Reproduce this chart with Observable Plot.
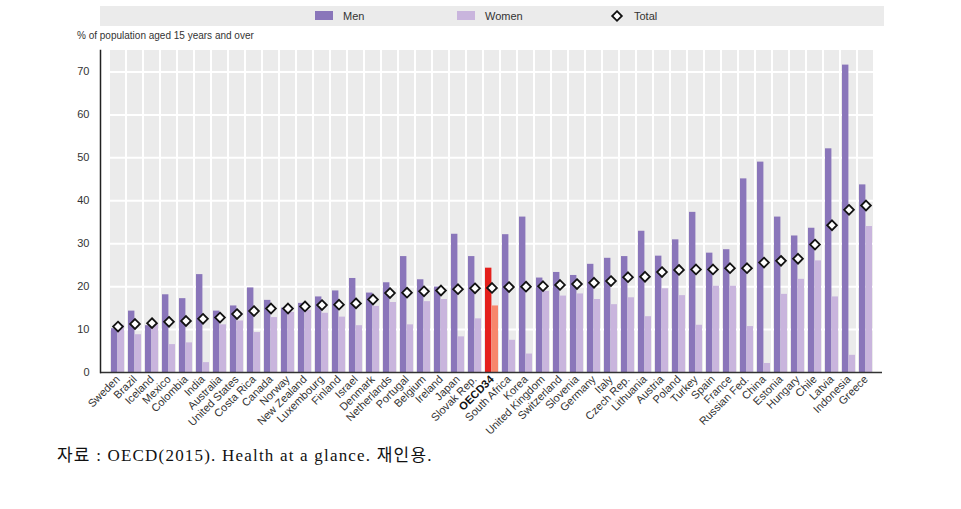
<!DOCTYPE html>
<html>
<head>
<meta charset="utf-8">
<script src="https://cdn.jsdelivr.net/npm/d3@7"></script>
<script src="https://cdn.jsdelivr.net/npm/@observablehq/plot@0.6"></script>
<style>
  body { margin: 0; background: #fff; }
  #wrap { position: relative; width: 961px; height: 509px; font-family: "Liberation Sans Narrow", "Arial Narrow", "Liberation Sans", Arial, sans-serif; color: #333; }
  #legend { position: absolute; left: 100px; top: 6px; width: 784px; height: 20px; background: #ebebeb; }
  .item { position: absolute; top: 0; height: 20px; line-height: 20px; font-size: 11px; color: #333; }
  .sw { position: absolute; top: 5px; width: 18px; height: 9px; }
  #ylabel { position: absolute; left: 77px; top: 30px; font-size: 10px; color: #333; }
  #chart { position: absolute; left: 0; top: 30px; }
  #caption { position: absolute; left: 57px; top: 441px; font-size: 17px; letter-spacing: 1.2px; color: #111; font-family: "Liberation Serif", "Noto Sans CJK KR", serif; white-space: nowrap; }
</style>
</head>
<body>
<div id="wrap">
  <div id="legend"></div>
  <div id="ylabel"></div>
  <div id="chart"></div>
  <div id="caption"></div>
</div>
<script>
const countries = ["Sweden","Brazil","Iceland","Mexico","Colombia","India","Australia","United States","Costa Rica","Canada","Norway","New Zealand","Luxembourg","Finland","Israel","Denmark","Netherlands","Portugal","Belgium","Ireland","Japan","Slovak Rep.","OECD34","South Africa","Korea","United Kingdom","Switzerland","Slovenia","Germany","Italy","Czech Rep.","Lithuania","Austria","Poland","Turkey","Spain","France","Russian Fed.","China","Estonia","Hungary","Chile","Latvia","Indonesia","Greece"];
const men = [10.2,14.3,10.9,18.1,17.2,22.8,14.3,15.5,19.7,16.8,15.0,16.1,17.6,19.0,21.9,18.5,20.9,27.0,21.6,19.9,32.2,27.0,24.3,32.1,36.2,22.0,23.3,22.6,25.2,26.6,27.0,32.9,27.1,30.9,37.3,27.8,28.6,45.1,49.0,36.2,31.8,33.6,52.1,71.6,43.7];
const women = [11.0,8.8,11.4,6.5,6.9,2.3,11.1,12.0,9.3,12.8,14.0,14.5,13.8,12.9,10.9,15.4,16.3,11.1,16.5,17.0,8.3,12.5,15.5,7.5,4.3,18.9,17.8,18.3,17.0,15.8,17.4,13.0,19.5,17.9,11.0,20.1,20.1,10.7,2.1,18.2,21.7,26.0,17.6,4.0,34.0];
const total = [10.7,11.3,11.5,11.8,12.0,12.5,12.8,13.6,14.3,14.9,14.9,15.4,15.7,15.8,16.1,17.0,18.5,18.6,18.9,19.1,19.4,19.6,19.7,19.9,20.0,20.1,20.4,20.6,20.9,21.3,22.2,22.3,23.4,23.9,24.0,24.0,24.3,24.3,25.6,26.0,26.5,29.8,34.3,37.9,38.9];
const yTicks = [0,10,20,30,40,50,60,70];
const seriesNames = ["Men","Women","Total"];
const highlight = "OECD34";
const yLabel = "% of population aged 15 years and over";
const caption = "자료 : OECD(2015). Health at a glance. 재인용.";

const C = {men: "#8a76ba", women: "#c9b5dd", menHi: "#e4201c", womenHi: "#f7876d", bg: "#ebebeb"};

const rows = countries.map((c, i) => ({country: c, men: men[i], women: women[i], total: total[i]}));

const chart = Plot.plot({
  width: 961,
  height: 415,
  marginLeft: 100,
  marginRight: 79,
  marginTop: 20,
  marginBottom: 73,
  style: {fontFamily: '"Liberation Sans Narrow", "Arial Narrow", "Liberation Sans", Arial, sans-serif', fontSize: "11px", color: "#333", background: "transparent"},
  x: {domain: countries, padding: 0, axis: null},
  y: {domain: [0, 75], axis: null},
  color: {type: "identity"},
  marks: [
    Plot.barY(countries, {x: d => d, y1: 0, y2: 75, fill: C.bg, insetLeft: 1, insetRight: 1}),
    Plot.ruleY(yTicks.filter(t => t > 0), {stroke: "white", strokeWidth: 2}),
    Plot.barY(rows, {x: "country", y: "men", fill: d => d.country === highlight ? C.menHi : C.men, insetLeft: 2.0, insetRight: 8.6}),
    Plot.barY(rows, {x: "country", y: "women", fill: d => d.country === highlight ? C.womenHi : C.women, insetLeft: 8.6, insetRight: 2.0}),
    Plot.dot(rows, {x: "country", y: "total", symbol: "diamond2", r: 4.4, fill: "white", stroke: "#111", strokeWidth: 1.8}),
    Plot.ruleY([0], {stroke: "#333", strokeWidth: 1.5}),
    Plot.frame({anchor: "left", stroke: "#222", strokeWidth: 1.5}),
    Plot.axisY({ticks: yTicks, tickSize: 0, tickPadding: 11, label: null, fontSize: 11}),
    Plot.axisX({ticks: countries.filter(c => c !== highlight), tickSize: 0, tickRotate: -45, tickPadding: 5, label: null, fontSize: 11}),
    Plot.axisX({ticks: [highlight], tickSize: 0, tickRotate: -45, tickPadding: 5, label: null, fontSize: 11, fontWeight: "bold", fill: "#111"})
  ]
});
document.getElementById("chart").appendChild(chart);

// legend
const legend = document.getElementById("legend");
const items = [
  {name: seriesNames[0], left: 215, type: "sw", color: C.men},
  {name: seriesNames[1], left: 357, type: "sw", color: C.women},
  {name: seriesNames[2], left: 510, type: "dia"}
];
for (const it of items) {
  const el = document.createElement("div");
  el.className = "item";
  el.style.left = it.left + "px";
  if (it.type === "sw") {
    const s = document.createElement("div");
    s.className = "sw";
    s.style.left = "0px";
    s.style.background = it.color;
    el.appendChild(s);
    const t = document.createElement("span");
    t.style.marginLeft = "28px";
    t.textContent = it.name;
    el.appendChild(t);
  } else {
    const svg = d3.create("svg").attr("width", 14).attr("height", 20).style("position", "absolute").style("left", "0px").style("top", "0px");
    svg.append("path").attr("d", d3.symbol(d3.symbolDiamond2, 60)()).attr("transform", "translate(7,10)").attr("fill", "white").attr("stroke", "#111").attr("stroke-width", 1.8);
    el.appendChild(svg.node());
    const t = document.createElement("span");
    t.style.marginLeft = "24px";
    t.textContent = it.name;
    el.appendChild(t);
  }
  legend.appendChild(el);
}
document.getElementById("ylabel").textContent = yLabel;
document.getElementById("caption").textContent = caption;
</script>
</body>
</html>
